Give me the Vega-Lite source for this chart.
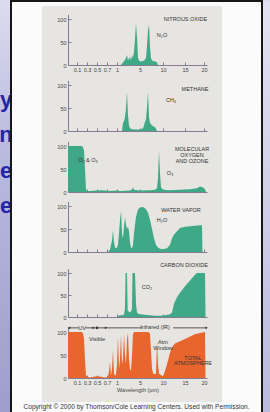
{
  "$schema": "https://vega.github.io/schema/vega-lite/v6.json",
  "background": "#fbfbfb",
  "padding": 0,
  "spacing": 0,
  "config": {
    "view": {"stroke": null},
    "font": "Liberation Sans",
    "axis": {"grid": false, "domainColor": "#857a92", "tickColor": "#857a92", "labelColor": "#444444", "labelFontSize": 5.5, "labelFont": "Liberation Sans", "tickSize": -3, "tickCount": 20, "labelPadding": 5, "labelOverlap": false, "labelFlush": false, "labelBound": false, "domainWidth": 1, "tickWidth": 1, "titleFontSize": 5.5, "titleFontWeight": "normal", "titleColor": "#444444", "titleFont": "Liberation Sans"}
  },
  "datasets": {
    "n2o": [{"w":1.70,"v":0},{"w":1.87,"v":3},{"w":2.22,"v":8},{"w":2.57,"v":15},{"w":2.74,"v":22},{"w":2.91,"v":10},{"w":3.26,"v":18},{"w":3.43,"v":10},{"w":3.61,"v":22},{"w":3.78,"v":15},{"w":3.96,"v":30},{"w":4.13,"v":55},{"w":4.30,"v":92},{"w":4.48,"v":60},{"w":4.65,"v":15},{"w":4.83,"v":10},{"w":5.0,"v":8},{"w":5.43,"v":8},{"w":5.87,"v":9},{"w":6.30,"v":15},{"w":6.52,"v":40},{"w":6.74,"v":75},{"w":6.96,"v":88},{"w":7.17,"v":40},{"w":7.39,"v":15},{"w":7.61,"v":10},{"w":8.04,"v":8},{"w":8.48,"v":7},{"w":8.70,"v":5},{"w":8.91,"v":0}],
    "ch4": [{"w":1.87,"v":0},{"w":2.04,"v":18},{"w":2.22,"v":22},{"w":2.39,"v":30},{"w":2.57,"v":50},{"w":2.74,"v":85},{"w":2.91,"v":35},{"w":3.09,"v":12},{"w":3.26,"v":6},{"w":3.61,"v":4},{"w":4.13,"v":3},{"w":4.65,"v":3},{"w":5.22,"v":4},{"w":5.65,"v":6},{"w":5.87,"v":12},{"w":6.09,"v":20},{"w":6.30,"v":25},{"w":6.52,"v":50},{"w":6.74,"v":85},{"w":6.96,"v":30},{"w":7.17,"v":18},{"w":7.61,"v":12},{"w":8.26,"v":8},{"w":8.48,"v":5},{"w":8.70,"v":0}],
    "o3": [{"w":0.02,"v":100},{"w":0.2,"v":100},{"w":0.22,"v":97},{"w":0.24,"v":90},{"w":0.26,"v":50},{"w":0.28,"v":5},{"w":0.3,"v":2},{"w":0.36,"v":2},{"w":0.5,"v":3},{"w":0.56,"v":4},{"w":0.66,"v":3},{"w":0.79,"v":2},{"w":1.0,"v":3},{"w":1.52,"v":2},{"w":3.26,"v":3},{"w":3.61,"v":6},{"w":3.78,"v":10},{"w":3.96,"v":5},{"w":5.0,"v":3},{"w":7.17,"v":4},{"w":8.26,"v":5},{"w":8.70,"v":8},{"w":8.91,"v":30},{"w":9.13,"v":91},{"w":9.35,"v":40},{"w":9.57,"v":10},{"w":10.0,"v":5},{"w":11.59,"v":4},{"w":13.86,"v":5},{"w":16.32,"v":6},{"w":18.16,"v":8},{"w":18.95,"v":12},{"w":19.74,"v":10},{"w":20.27,"v":6},{"w":20.53,"v":0}],
    "h2o": [{"w":0.73,"v":0},{"w":0.79,"v":5},{"w":0.85,"v":25},{"w":0.88,"v":48},{"w":0.91,"v":20},{"w":0.94,"v":10},{"w":0.97,"v":8},{"w":1.0,"v":10},{"w":1.17,"v":15},{"w":1.35,"v":40},{"w":1.52,"v":70},{"w":1.70,"v":89},{"w":1.87,"v":40},{"w":2.04,"v":30},{"w":2.22,"v":55},{"w":2.39,"v":75},{"w":2.57,"v":60},{"w":2.74,"v":50},{"w":2.91,"v":55},{"w":3.09,"v":45},{"w":3.26,"v":20},{"w":3.43,"v":10},{"w":3.61,"v":8},{"w":3.78,"v":15},{"w":3.96,"v":40},{"w":4.13,"v":60},{"w":4.30,"v":75},{"w":4.48,"v":85},{"w":4.65,"v":92},{"w":5.0,"v":97},{"w":5.43,"v":98},{"w":5.87,"v":97},{"w":6.30,"v":93},{"w":6.74,"v":85},{"w":7.17,"v":70},{"w":7.61,"v":50},{"w":8.04,"v":30},{"w":8.48,"v":15},{"w":8.91,"v":10},{"w":9.35,"v":7},{"w":10.0,"v":6},{"w":10.91,"v":8},{"w":11.59,"v":15},{"w":12.05,"v":30},{"w":12.5,"v":38},{"w":12.73,"v":40},{"w":13.18,"v":45},{"w":13.86,"v":52},{"w":15.0,"v":55},{"w":16.32,"v":56},{"w":17.63,"v":57},{"w":18.95,"v":58},{"w":19.47,"v":58},{"w":19.6,"v":0}],
    "co2": [{"w":1.0,"v":0},{"w":1.17,"v":3},{"w":2.22,"v":5},{"w":2.39,"v":20},{"w":2.5,"v":100},{"w":2.74,"v":100},{"w":2.85,"v":15},{"w":3.26,"v":10},{"w":3.43,"v":12},{"w":3.61,"v":20},{"w":3.7,"v":100},{"w":4.13,"v":100},{"w":4.3,"v":30},{"w":4.48,"v":10},{"w":4.65,"v":8},{"w":5.0,"v":6},{"w":6.09,"v":5},{"w":7.17,"v":4},{"w":8.26,"v":3},{"w":9.35,"v":3},{"w":10.45,"v":4},{"w":11.59,"v":6},{"w":12.05,"v":10},{"w":12.5,"v":30},{"w":13.18,"v":45},{"w":13.86,"v":55},{"w":15.0,"v":70},{"w":16.32,"v":83},{"w":17.63,"v":96},{"w":18.16,"v":100},{"w":20.27,"v":100},{"w":20.4,"v":0}],
    "total": [{"w":0.02,"v":100},{"w":0.2,"v":100},{"w":0.22,"v":97},{"w":0.24,"v":85},{"w":0.26,"v":40},{"w":0.28,"v":5},{"w":0.32,"v":2},{"w":0.36,"v":1},{"w":0.46,"v":3},{"w":0.5,"v":4},{"w":0.56,"v":3},{"w":0.66,"v":1},{"w":0.73,"v":2},{"w":0.76,"v":15},{"w":0.79,"v":35},{"w":0.82,"v":5},{"w":0.85,"v":20},{"w":0.88,"v":60},{"w":0.91,"v":10},{"w":0.94,"v":5},{"w":0.97,"v":8},{"w":1.0,"v":30},{"w":1.17,"v":90},{"w":1.35,"v":20},{"w":1.52,"v":40},{"w":1.70,"v":95},{"w":1.87,"v":30},{"w":2.04,"v":40},{"w":2.22,"v":97},{"w":2.39,"v":50},{"w":2.57,"v":30},{"w":2.74,"v":85},{"w":2.91,"v":98},{"w":3.09,"v":40},{"w":3.26,"v":20},{"w":3.43,"v":15},{"w":3.61,"v":50},{"w":3.78,"v":95},{"w":3.96,"v":100},{"w":5.0,"v":100},{"w":6.74,"v":100},{"w":7.17,"v":97},{"w":7.39,"v":60},{"w":7.61,"v":20},{"w":7.83,"v":10},{"w":8.26,"v":8},{"w":8.48,"v":10},{"w":8.70,"v":80},{"w":8.91,"v":30},{"w":9.13,"v":10},{"w":9.57,"v":6},{"w":10.0,"v":4},{"w":10.45,"v":15},{"w":10.91,"v":30},{"w":11.59,"v":55},{"w":12.27,"v":70},{"w":12.73,"v":75},{"w":13.86,"v":80},{"w":15.0,"v":85},{"w":16.32,"v":90},{"w":17.63,"v":95},{"w":18.95,"v":98},{"w":20.27,"v":100},{"w":20.4,"v":0}],
    "labels": [
      {"panel":1,"label":"NITROUS OXIDE","w":15.13,"v":100},
      {"panel":1,"label":"N₂O","w":9.78,"v":65},
      {"panel":2,"label":"METHANE","w":17.63,"v":91},
      {"panel":2,"label":"CH₄","w":11.82,"v":67},
      {"panel":3,"label":"MOLECULAR","w":16.84,"v":93},
      {"panel":3,"label":"OXYGEN","w":16.84,"v":80},
      {"panel":3,"label":"AND OZONE","w":16.84,"v":67},
      {"panel":3,"label":"O₂ & O₃","w":0.32,"v":70},
      {"panel":3,"label":"O₃","w":11.59,"v":41},
      {"panel":4,"label":"WATER VAPOR","w":14.09,"v":91},
      {"panel":4,"label":"H₂O","w":9.78,"v":70},
      {"panel":5,"label":"CARBON DIOXIDE","w":14.77,"v":118},
      {"panel":5,"label":"CO₂","w":6.52,"v":68},
      {"panel":6,"label":"UV","w":0.2,"v":109},
      {"panel":6,"label":"Visible","w":0.5,"v":85},
      {"panel":6,"label":"Infrared (IR)","w":8.26,"v":111},
      {"panel":6,"label":"Atm","w":10.0,"v":78},
      {"panel":6,"label":"Window","w":10.0,"v":65},
      {"panel":6,"label":"TOTAL","w":17.1,"v":43},
      {"panel":6,"label":"ATMOSPHERE","w":17.1,"v":33}
    ],
    "bands": [{"w1":0.02,"w2":0.14},{"w1":0.27,"w2":0.7},{"w1":0.7,"w2":5.4},{"w1":12.3,"w2":20.8}],
    "arrows": [{"w":0.03,"shape":"triangle-left"},{"w":0.41,"shape":"triangle-left"},{"w":0.5,"shape":"circle"},{"w":0.68,"shape":"triangle-right"},{"w":20.7,"shape":"triangle-right"}],
    "letters": [{"t":"y","line":1},{"t":"n","line":2},{"t":"e","line":3},{"t":"e","line":4}],
    "one": [{}]
  },
  "vconcat": [
    {
      "spacing": 0,
      "hconcat": [
        {"width": 10, "height": 2, "view": {"fill": "#dcdcef", "stroke": null}, "data": {"name": "one"}, "mark": {"type": "text", "fontSize": 0}, "encoding": {"text": {"value": ""}}},
        {"width": 253, "height": 2, "view": {"fill": "#161616", "stroke": null}, "data": {"name": "one"}, "mark": {"type": "text", "fontSize": 0}, "encoding": {"text": {"value": ""}}},
        {"width": 7, "height": 2, "view": {"fill": "#dcdcef", "stroke": null}, "data": {"name": "one"}, "mark": {"type": "text", "fontSize": 0}, "encoding": {"text": {"value": ""}}}
      ]
    },
    {
      "spacing": 0,
      "hconcat": [
        {
          "width": 10, "height": 400,
          "view": {"fill": {"gradient": "linear", "x1": 0, "y1": 0, "x2": 0, "y2": 1, "stops": [{"offset": 0, "color": "#dcdcef"}, {"offset": 0.35, "color": "#babbdf"}, {"offset": 1, "color": "#9e9fcb"}]}, "stroke": null},
          "data": {"name": "letters"},
          "mark": {"type": "text", "fontSize": 22, "fontWeight": "bold", "color": "#2424a8", "align": "center", "baseline": "middle", "clip": true, "dx": 1},
          "encoding": {
            "y": {"field": "line", "type": "quantitative", "scale": {"domain": [1, 4], "range": [98, 204]}, "axis": null},
            "text": {"field": "t"}
          }
        },
        {"width": 2, "height": 400, "view": {"fill": "#161616", "stroke": null}, "data": {"name": "one"}, "mark": {"type": "text", "fontSize": 0}, "encoding": {"text": {"value": ""}}},
        {"width": 30, "height": 400, "data": {"name": "one"}, "mark": {"type": "text", "fontSize": 0}, "encoding": {"text": {"value": ""}}},
        {
          "spacing": 0,
          "bounds": "flush",
          "vconcat": [
            {"width": 180, "height": 4, "data": {"name": "one"}, "mark": {"type": "text", "fontSize": 0}, "encoding": {"text": {"value": ""}}},
            {
              "width": 180, "height": 74,
              "view": {"fill": "#e6e5e1", "stroke": null},
              "layer": [
                {
                  "data": {"name": "n2o"},
                  "mark": {"type": "area", "color": "#3fa886"},
                  "encoding": {
                    "x": {"field": "w", "type": "quantitative", "scale": {"domain": [0.02,0.1,0.3,0.5,0.7,1,5,10,15,20,20.8], "range": [26,35,45,55,65,75,98,121,143,162,165], "nice": false, "zero": false}, "axis": {"values": [0.1,0.3,0.5,0.7,1,5,10,15,20], "tickCount": 20, "format": "~g", "labelOverlap": false, "offset": -15, "title": null}},
                    "y": {"field": "v", "type": "quantitative", "scale": {"domain": [0, 110], "range": [59, 8.4], "nice": false, "zero": false}, "axis": {"values": [0, 50, 100], "tickCount": 20, "offset": -26, "title": null}}
                  }
                },
                {
                  "data": {"name": "labels"},
                  "transform": [{"filter": "datum.panel == 1"}],
                  "mark": {"type": "text", "fontSize": 5.5, "color": "#333333"},
                  "encoding": {
                    "x": {"field": "w", "type": "quantitative", "scale": {"domain": [0.02,0.1,0.3,0.5,0.7,1,5,10,15,20,20.8], "range": [26,35,45,55,65,75,98,121,143,162,165], "nice": false, "zero": false}},
                    "y": {"field": "v", "type": "quantitative", "scale": {"domain": [0, 110], "range": [59, 8.4], "nice": false, "zero": false}},
                    "text": {"field": "label"}
                  }
                }
              ]
            },
            {
              "width": 180, "height": 58,
              "view": {"fill": "#e6e5e1", "stroke": null},
              "layer": [
                {
                  "data": {"name": "ch4"},
                  "mark": {"type": "area", "color": "#3fa886"},
                  "encoding": {
                    "x": {"field": "w", "type": "quantitative", "scale": {"domain": [0.02,0.1,0.3,0.5,0.7,1,5,10,15,20,20.8], "range": [26,35,45,55,65,75,98,121,143,162,165], "nice": false, "zero": false}, "axis": {"values": [0.1,0.3,0.5,0.7,1,5,10,15,20], "tickCount": 20, "labels": false, "offset": -7, "title": null}},
                    "y": {"field": "v", "type": "quantitative", "scale": {"domain": [0, 110], "range": [51, 0.4], "nice": false, "zero": false}, "axis": {"values": [0, 50, 100], "tickCount": 20, "offset": -26, "title": null}}
                  }
                },
                {
                  "data": {"name": "labels"},
                  "transform": [{"filter": "datum.panel == 2"}],
                  "mark": {"type": "text", "fontSize": 5.5, "color": "#333333"},
                  "encoding": {
                    "x": {"field": "w", "type": "quantitative", "scale": {"domain": [0.02,0.1,0.3,0.5,0.7,1,5,10,15,20,20.8], "range": [26,35,45,55,65,75,98,121,143,162,165], "nice": false, "zero": false}},
                    "y": {"field": "v", "type": "quantitative", "scale": {"domain": [0, 110], "range": [51, 0.4], "nice": false, "zero": false}},
                    "text": {"field": "label"}
                  }
                }
              ]
            },
            {
              "width": 180, "height": 61,
              "view": {"fill": "#e6e5e1", "stroke": null},
              "layer": [
                {
                  "data": {"name": "o3"},
                  "mark": {"type": "area", "color": "#3fa886"},
                  "encoding": {
                    "x": {"field": "w", "type": "quantitative", "scale": {"domain": [0.02,0.1,0.3,0.5,0.7,1,5,10,15,20,20.8], "range": [26,35,45,55,65,75,98,121,143,162,165], "nice": false, "zero": false}, "axis": {"values": [0.1,0.3,0.5,0.7,1,5,10,15,20], "tickCount": 20, "labels": false, "offset": -7, "title": null}},
                    "y": {"field": "v", "type": "quantitative", "scale": {"domain": [0, 110], "range": [54, 3.4], "nice": false, "zero": false}, "axis": {"values": [0, 50, 100], "tickCount": 20, "offset": -26, "title": null}}
                  }
                },
                {
                  "data": {"name": "labels"},
                  "transform": [{"filter": "datum.panel == 3"}],
                  "mark": {"type": "text", "fontSize": 5.5, "color": "#333333"},
                  "encoding": {
                    "x": {"field": "w", "type": "quantitative", "scale": {"domain": [0.02,0.1,0.3,0.5,0.7,1,5,10,15,20,20.8], "range": [26,35,45,55,65,75,98,121,143,162,165], "nice": false, "zero": false}},
                    "y": {"field": "v", "type": "quantitative", "scale": {"domain": [0, 110], "range": [54, 3.4], "nice": false, "zero": false}},
                    "text": {"field": "label"}
                  }
                }
              ]
            },
            {
              "width": 180, "height": 61,
              "view": {"fill": "#e6e5e1", "stroke": null},
              "layer": [
                {
                  "data": {"name": "h2o"},
                  "mark": {"type": "area", "color": "#3fa886"},
                  "encoding": {
                    "x": {"field": "w", "type": "quantitative", "scale": {"domain": [0.02,0.1,0.3,0.5,0.7,1,5,10,15,20,20.8], "range": [26,35,45,55,65,75,98,121,143,162,165], "nice": false, "zero": false}, "axis": {"values": [0.1,0.3,0.5,0.7,1,5,10,15,20], "tickCount": 20, "labels": false, "offset": -8, "title": null}},
                    "y": {"field": "v", "type": "quantitative", "scale": {"domain": [0, 110], "range": [53, 2.4], "nice": false, "zero": false}, "axis": {"values": [0, 50, 100], "tickCount": 20, "offset": -26, "title": null}}
                  }
                },
                {
                  "data": {"name": "labels"},
                  "transform": [{"filter": "datum.panel == 4"}],
                  "mark": {"type": "text", "fontSize": 5.5, "color": "#333333"},
                  "encoding": {
                    "x": {"field": "w", "type": "quantitative", "scale": {"domain": [0.02,0.1,0.3,0.5,0.7,1,5,10,15,20,20.8], "range": [26,35,45,55,65,75,98,121,143,162,165], "nice": false, "zero": false}},
                    "y": {"field": "v", "type": "quantitative", "scale": {"domain": [0, 110], "range": [53, 2.4], "nice": false, "zero": false}},
                    "text": {"field": "label"}
                  }
                }
              ]
            },
            {
              "width": 180, "height": 62,
              "view": {"fill": "#e6e5e1", "stroke": null},
              "layer": [
                {
                  "data": {"name": "co2"},
                  "mark": {"type": "area", "color": "#3fa886"},
                  "encoding": {
                    "x": {"field": "w", "type": "quantitative", "scale": {"domain": [0.02,0.1,0.3,0.5,0.7,1,5,10,15,20,20.8], "range": [26,35,45,55,65,75,98,121,143,162,165], "nice": false, "zero": false}, "axis": {"values": [0.1,0.3,0.5,0.7,1,5,10,15,20], "tickCount": 20, "labels": false, "offset": -5, "title": null}},
                    "y": {"field": "v", "type": "quantitative", "scale": {"domain": [0, 110], "range": [57, 8.6], "nice": false, "zero": false}, "axis": {"values": [0, 50, 100], "tickCount": 20, "offset": -26, "title": null}}
                  }
                },
                {
                  "data": {"name": "labels"},
                  "transform": [{"filter": "datum.panel == 5"}],
                  "mark": {"type": "text", "fontSize": 5.5, "color": "#333333"},
                  "encoding": {
                    "x": {"field": "w", "type": "quantitative", "scale": {"domain": [0.02,0.1,0.3,0.5,0.7,1,5,10,15,20,20.8], "range": [26,35,45,55,65,75,98,121,143,162,165], "nice": false, "zero": false}},
                    "y": {"field": "v", "type": "quantitative", "scale": {"domain": [0, 110], "range": [57, 8.6], "nice": false, "zero": false}},
                    "text": {"field": "label"}
                  }
                }
              ]
            },
            {
              "width": 180, "height": 80,
              "view": {"fill": "#e6e5e1", "stroke": null},
              "layer": [
                {
                  "data": {"name": "total"},
                  "mark": {"type": "area", "color": "#e8652e"},
                  "encoding": {
                    "x": {"field": "w", "type": "quantitative", "scale": {"domain": [0.02,0.1,0.3,0.5,0.7,1,5,10,15,20,20.8], "range": [26,35,45,55,65,75,98,121,143,162,165], "nice": false, "zero": false}, "axis": {"values": [0.1,0.3,0.5,0.7,1,5,10,15,20], "tickCount": 20, "format": "~g", "labelOverlap": false, "offset": -24, "title": "Wavelength (µm)", "titlePadding": 2}},
                    "y": {"field": "v", "type": "quantitative", "scale": {"domain": [0, 110], "range": [56, 5.4], "nice": false, "zero": false}, "axis": {"values": [0, 50, 100], "tickCount": 20, "offset": -26, "title": null}}
                  }
                },
                {
                  "data": {"name": "bands"},
                  "mark": {"type": "rule", "color": "#333333", "strokeWidth": 0.8},
                  "encoding": {
                    "x": {"field": "w1", "type": "quantitative", "scale": {"domain": [0.02,0.1,0.3,0.5,0.7,1,5,10,15,20,20.8], "range": [26,35,45,55,65,75,98,121,143,162,165], "nice": false, "zero": false}},
                    "x2": {"field": "w2"},
                    "y": {"datum": 109, "type": "quantitative", "scale": {"domain": [0, 110], "range": [56, 5.4], "nice": false, "zero": false}}
                  }
                },
                {
                  "data": {"name": "arrows"},
                  "mark": {"type": "point", "filled": true, "color": "#333333", "size": 7, "opacity": 1},
                  "encoding": {
                    "x": {"field": "w", "type": "quantitative", "scale": {"domain": [0.02,0.1,0.3,0.5,0.7,1,5,10,15,20,20.8], "range": [26,35,45,55,65,75,98,121,143,162,165], "nice": false, "zero": false}},
                    "y": {"datum": 109, "type": "quantitative", "scale": {"domain": [0, 110], "range": [56, 5.4], "nice": false, "zero": false}},
                    "shape": {"field": "shape", "type": "nominal", "scale": null}
                  }
                },
                {
                  "data": {"name": "labels"},
                  "transform": [{"filter": "datum.panel == 6"}],
                  "mark": {"type": "text", "fontSize": 5.5, "color": "#333333"},
                  "encoding": {
                    "x": {"field": "w", "type": "quantitative", "scale": {"domain": [0.02,0.1,0.3,0.5,0.7,1,5,10,15,20,20.8], "range": [26,35,45,55,65,75,98,121,143,162,165], "nice": false, "zero": false}},
                    "y": {"field": "v", "type": "quantitative", "scale": {"domain": [0, 110], "range": [56, 5.4], "nice": false, "zero": false}},
                    "text": {"field": "label"}
                  }
                }
              ]
            }
          ]
        },
        {"width": 39, "height": 400, "data": {"name": "one"}, "mark": {"type": "text", "fontSize": 0}, "encoding": {"text": {"value": ""}}},
        {"width": 2, "height": 400, "view": {"fill": "#161616", "stroke": null}, "data": {"name": "one"}, "mark": {"type": "text", "fontSize": 0}, "encoding": {"text": {"value": ""}}},
        {"width": 7, "height": 400, "view": {"fill": {"gradient": "linear", "x1": 0, "y1": 0, "x2": 0, "y2": 1, "stops": [{"offset": 0, "color": "#e2e2f1"}, {"offset": 0.5, "color": "#cfcfe8"}, {"offset": 1, "color": "#b9badd"}]}, "stroke": null}, "data": {"name": "one"}, "mark": {"type": "text", "fontSize": 0}, "encoding": {"text": {"value": ""}}}
      ]
    },
    {
      "spacing": 0,
      "hconcat": [
        {"width": 10, "height": 10, "view": {"fill": "#9e9fcb", "stroke": null}, "data": {"name": "one"}, "mark": {"type": "text", "fontSize": 0}, "encoding": {"text": {"value": ""}}},
        {"width": 2, "height": 10, "view": {"fill": "#161616", "stroke": null}, "data": {"name": "one"}, "mark": {"type": "text", "fontSize": 0}, "encoding": {"text": {"value": ""}}},
        {"width": 249, "height": 10, "data": {"name": "one"}, "mark": {"type": "text", "fontSize": 6.6, "color": "#333333", "baseline": "middle"}, "encoding": {"text": {"value": "Copyright © 2000 by Thomson/Cole Learning Centers. Used with Permission."}}},
        {"width": 2, "height": 10, "view": {"fill": "#161616", "stroke": null}, "data": {"name": "one"}, "mark": {"type": "text", "fontSize": 0}, "encoding": {"text": {"value": ""}}},
        {"width": 7, "height": 10, "view": {"fill": "#b9badd", "stroke": null}, "data": {"name": "one"}, "mark": {"type": "text", "fontSize": 0}, "encoding": {"text": {"value": ""}}}
      ]
    }
  ]
}
